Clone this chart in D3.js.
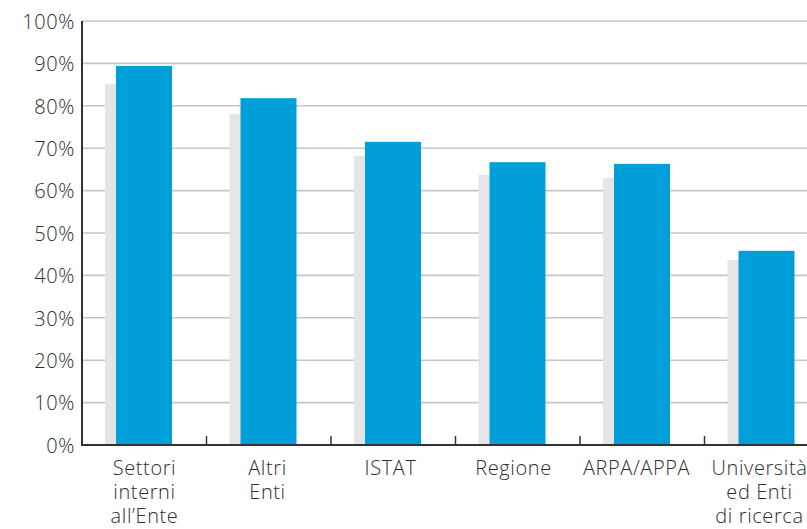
<!DOCTYPE html>
<html><head><meta charset="utf-8">
<script src="https://cdn.jsdelivr.net/npm/d3@7"></script>
<style>
html,body{margin:0;padding:0;background:#fff;overflow:hidden;}
text{font-family:"Open Sans","Noto Sans",sans-serif;fill:#2e2e2e;font-weight:300;}
</style></head><body>
<svg id="chart" width="807" height="529"></svg>
<script>
const categories = [["Settori","interni","all’Ente"],["Altri","Enti"],["ISTAT"],["Regione"],["ARPA/APPA"],["Università","ed Enti","di ricerca"]];
const catKeys = categories.map(c => c.join(" "));
const seriesCurrent = [89.4, 81.8, 71.5, 66.7, 66.3, 45.8];
const seriesPrevious = [85.1, 78.1, 68.2, 63.7, 63.0, 43.6];
const yTicks = [0,10,20,30,40,50,60,70,80,90,100];

(function(){
const svg = d3.select("#chart");
const mLeft = 82, mTop = 21, mBottom = 445, mRight = 829;
const x = d3.scaleBand().domain(catKeys).range([mLeft, mRight]).paddingInner(0).paddingOuter(0);
const xl = d3.scaleBand().domain(catKeys).range([mLeft + 1, mLeft + 1 + 6*123]);
const y = d3.scaleLinear().domain([0,100]).range([mBottom, mTop]);
const barW = 56, blueOff = 34, grayOff = 23;

svg.append("g").selectAll("line").data(yTicks.filter(d=>d>0)).join("line")
  .attr("x1", mLeft).attr("x2", 807).attr("y1", d=>y(d)).attr("y2", d=>y(d))
  .attr("stroke", "#c6c6c6").attr("stroke-width", 1.6);

svg.append("g").selectAll("rect").data(seriesPrevious).join("rect")
  .attr("x", (d,i)=>x(catKeys[i]) + grayOff).attr("width", barW)
  .attr("y", d=>y(d)).attr("height", d=>mBottom - y(d)).attr("fill", "#e5e5e7");

svg.append("g").selectAll("rect").data(seriesCurrent).join("rect")
  .attr("x", (d,i)=>x(catKeys[i]) + blueOff).attr("width", barW)
  .attr("y", d=>y(d)).attr("height", d=>mBottom - y(d)).attr("fill", "#009fda");

const yAxis = d3.axisLeft(y).tickValues(yTicks).tickFormat(d=>d+"%").tickSize(0).tickPadding(7);
const gy = svg.append("g").attr("transform", `translate(${mLeft},0)`).call(yAxis);
gy.select(".domain").remove();
gy.selectAll("text").style("font-size","20px").style("letter-spacing","0.6px").attr("fill","#2e2e2e").attr("dy","0.36em");
svg.append("line").attr("x1", mLeft).attr("x2", mLeft).attr("y1", mTop).attr("y2", mBottom+1)
  .attr("stroke","#333").attr("stroke-width",2);

svg.append("line").attr("x1", mLeft-1).attr("x2", 807).attr("y1", mBottom).attr("y2", mBottom)
  .attr("stroke","#333").attr("stroke-width",2);
svg.append("g").selectAll("line").data(catKeys.slice(1)).join("line")
  .attr("x1", d=>x(d)).attr("x2", d=>x(d)).attr("y1", mBottom).attr("y2", mBottom-9)
  .attr("stroke","#333").attr("stroke-width",1.5);

const gl = svg.append("g");
categories.forEach((lines,i)=>{
  const cx = xl(catKeys[i]) + xl.bandwidth()/2;
  const t = gl.append("text").attr("text-anchor","middle").style("font-size","20px").style("letter-spacing","0.6px");
  lines.forEach((ln,j)=>{
    t.append("tspan").attr("x", cx).attr("y", 474.5 + j*24.3).text(ln);
  });
});
})();
</script></body></html>
